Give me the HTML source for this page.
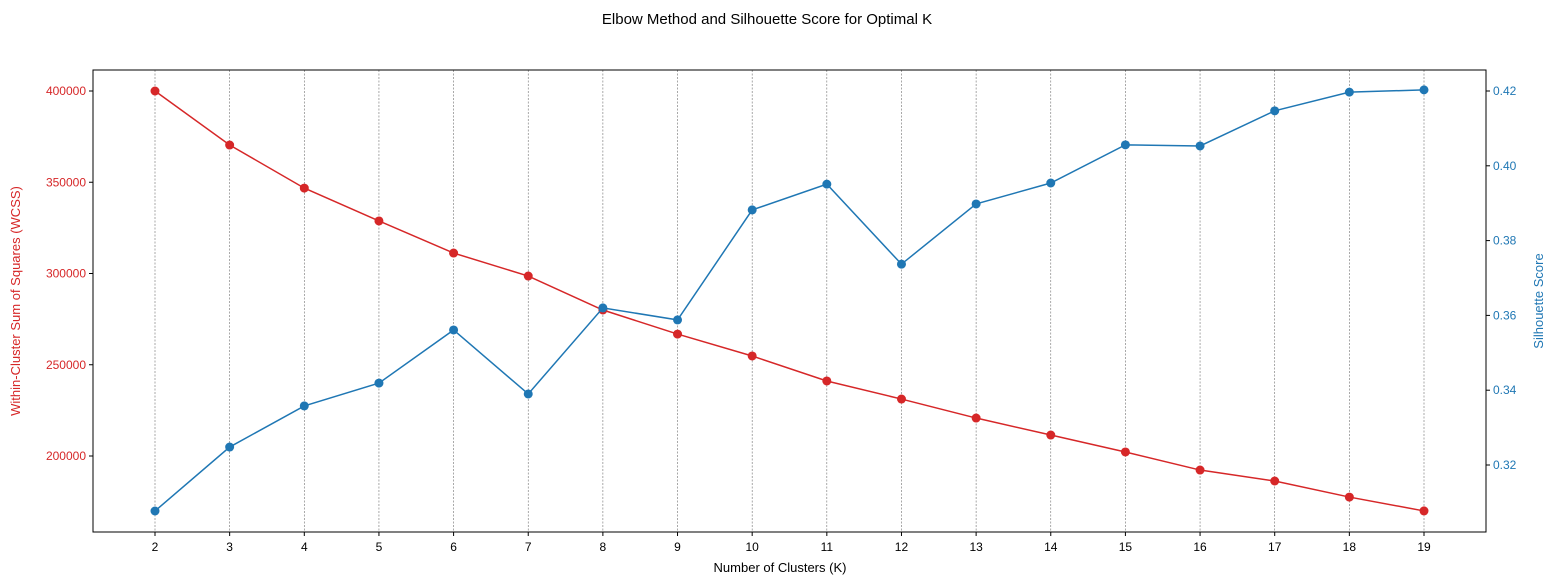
<!DOCTYPE html>
<html><head><meta charset="utf-8"><style>
body{margin:0;background:#fff;}
svg{display:block;font-family:"Liberation Sans","DejaVu Sans",sans-serif;}
</style></head><body>
<svg id="chart" width="1556" height="585">
<text x="767" y="24" text-anchor="middle" font-size="15">Elbow Method and Silhouette Score for Optimal K</text>
<g id="grid"></g><g id="series"></g><g id="axes"></g>
<text x="780" y="572" text-anchor="middle" font-size="13">Number of Clusters (K)</text>
<text transform="translate(20,301) rotate(-90)" text-anchor="middle" font-size="13" fill="#d62728">Within-Cluster Sum of Squares (WCSS)</text>
<text transform="translate(1543,301) rotate(-90)" text-anchor="middle" font-size="13" fill="#1f77b4">Silhouette Score</text>
</svg>
<script>
const kValues=[2,3,4,5,6,7,8,9,10,11,12,13,14,15,16,17,18,19];
const wcss=[400000,370400,346800,328800,311200,298600,280000,266800,254800,241100,231200,220800,211500,202200,192300,186300,177500,169900];
const silhouette=[0.3077,0.3248,0.3358,0.3419,0.3561,0.3390,0.3620,0.3588,0.3882,0.3951,0.3737,0.3898,0.3954,0.4056,0.4053,0.4147,0.4197,0.4203];
const leftTicks=[200000,250000,300000,350000,400000];
const rightTicks=[0.32,0.34,0.36,0.38,0.40,0.42];
const L=93,R=1486,T=70,B=532;
const NS="http://www.w3.org/2000/svg";
const xS=k=>155+(k-2)*(1424-155)/17;
const yL=v=>91+(400000-v)*0.001825;
const yR=v=>91+(0.42-v)*3740;
function mk(tag,attrs,parent,text){const e=document.createElementNS(NS,tag);for(const a in attrs)e.setAttribute(a,attrs[a]);if(text!==undefined)e.textContent=text;parent.appendChild(e);return e;}
const grid=document.getElementById('grid'),series=document.getElementById('series'),axes=document.getElementById('axes');
kValues.forEach(k=>{const x=xS(k);
 const g=mk('line',{x1:x,x2:x,y1:T,y2:B,stroke:'#707070','stroke-width':0.6,'stroke-dasharray':'2,1.5'},grid);
 
 
 const t=mk('line',{x1:x,x2:x,y1:B,y2:B+4,stroke:'#000'},axes);
 
 
 const l=mk('text',{x:x,y:B+19,'text-anchor':'middle','font-size':12},axes,String(k));
 
 
});
leftTicks.forEach(v=>{const y=yL(v);
 mk('line',{x1:L-4,x2:L,y1:y,y2:y,stroke:'#000'},axes);
 const l=mk('text',{x:L-7,y:y+4,'text-anchor':'end','font-size':12,fill:'#d62728'},axes,String(v));
 
 
});
rightTicks.forEach(v=>{const y=yR(v);
 mk('line',{x1:R,x2:R+4,y1:y,y2:y,stroke:'#000'},axes);
 const l=mk('text',{x:R+7,y:y+4,'font-size':12,fill:'#1f77b4'},axes,v.toFixed(2));
 
 
});
const frame=mk('rect',{x:L,y:T,width:R-L,height:B-T,fill:'none',stroke:'#000','stroke-width':1},axes);


function draw(vals,yf,color,name){
 const p=mk('polyline',{points:vals.map((v,i)=>xS(kValues[i])+','+yf(v)).join(' '),fill:'none',stroke:color,'stroke-width':1.5},series);
 
 
 vals.forEach((v,i)=>{const c=mk('circle',{cx:xS(kValues[i]),cy:yf(v),r:4.5,fill:color},series);
  
  });
}
draw(wcss,yL,'#d62728','wcss');
draw(silhouette,yR,'#1f77b4','silhouette');
</script>
</body></html>
